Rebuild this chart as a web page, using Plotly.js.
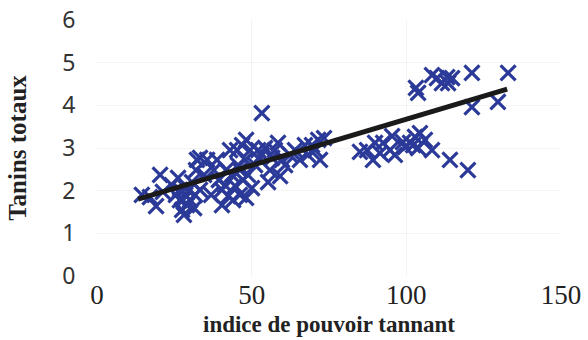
<!DOCTYPE html>
<html>
<head>
<meta charset="utf-8">
<script src="https://cdn.plot.ly/plotly-3.0.1.min.js"></script>
<style>html,body{margin:0;padding:0;background:#fff;}#chart{width:588px;height:340px;}</style>
</head>
<body>
<div id="chart"></div>
<script>
// indice de pouvoir tannant (x) and Tanins totaux (y)
const pouvoirTannant = [
  14.5, 17.1, 19.1, 20.4, 21.3, 24.2, 25.5, 26.2, 26.8, 27.5,
  28.1, 28.5, 29.1, 29.7, 30.1, 30.7, 31.4, 32.0, 32.3, 33.3,
  33.3, 34.6, 35.6, 36.9, 37.8, 38.8, 39.4, 40.4, 41.4, 42.4,
  43.0, 43.6, 44.0, 44.6, 45.3, 45.6, 46.2, 46.9, 47.2, 47.9,
  48.2, 48.8, 49.5, 50.1, 51.1, 53.3, 53.3, 54.3, 55.3, 55.9,
  56.6, 57.5, 58.5, 59.2, 59.8, 60.8, 62.4, 64.0, 65.6, 67.2,
  68.2, 69.5, 70.5, 71.5, 72.1, 73.4, 27.8, 28.8, 26.8, 31.7,
  41.7, 46.2, 48.2, 40.4, 52.1,
  85.0, 87.3, 89.9, 89.2, 91.5, 92.5, 94.7, 95.4, 96.3, 98.9,
  99.6, 101.2, 102.2, 102.8, 104.4, 103.8, 106.0, 108.3, 114.1, 119.9,
  103.1, 103.8, 108.3, 109.9, 111.5, 113.2, 113.5, 114.8, 121.2, 132.9,
  121.2, 129.6
];
const taninsTotaux = [
  1.90, 1.85, 1.64, 2.37, 1.97, 2.13, 1.90, 2.30, 1.78, 1.55,
  1.43, 1.90, 1.66, 2.02, 1.78, 2.20, 1.59, 2.48, 2.72, 2.77,
  2.02, 2.37, 2.72, 1.90, 2.48, 2.72, 2.25, 1.66, 2.13, 1.87,
  2.95, 2.37, 1.78, 2.11, 2.95, 2.60, 1.90, 3.07, 2.25, 2.72,
  1.83, 2.37, 2.95, 2.06, 2.60, 3.82, 2.84, 3.00, 2.20, 2.48,
  2.77, 2.95, 3.12, 2.34, 2.72, 2.60, 2.84, 2.95, 2.72, 3.07,
  2.84, 3.07, 2.95, 3.19, 2.72, 3.23, 1.78, 2.06, 2.02, 1.90,
  2.48, 2.48, 3.19, 2.02, 2.95,
  2.91, 2.95, 3.12, 2.72, 2.88, 3.12, 2.95, 3.28, 2.84, 3.14,
  3.02, 3.12, 3.07, 3.26, 3.35, 3.00, 3.19, 2.95, 2.72, 2.48,
  4.41, 4.29, 4.71, 4.64, 4.52, 4.66, 4.52, 4.64, 4.76, 4.76,
  3.96, 4.08
];
// linear trend line end points
const trendX = [13.3, 132.6];
const trendY = [1.80, 4.38];

const xTicks = [0, 50, 100, 150];
const yTicks = [0, 1, 2, 3, 4, 5, 6];

const data = [
  {
    type: 'scatter', mode: 'markers',
    x: pouvoirTannant, y: taninsTotaux,
    marker: {symbol: 'x-thin', size: 15, color: '#2B3A98', line: {color: '#2B3A98', width: 3.2}},
    hoverinfo: 'x+y', showlegend: false
  },
  {
    type: 'scatter', mode: 'lines',
    x: trendX, y: trendY,
    line: {color: '#1a1a1a', width: 5},
    showlegend: false
  }
];

const layout = {
  width: 588, height: 340,
  margin: {l: 97, r: 27, t: 20, b: 64},
  paper_bgcolor: '#fff', plot_bgcolor: '#fff',
  showlegend: false,
  xaxis: {
    range: [0, 150], tickvals: xTicks, ticktext: xTicks.map(String),
    showgrid: true, gridcolor: '#f3f3f3', gridwidth: 1,
    zeroline: false, showline: false,
    ticks: '', 
    tickfont: {family: 'Liberation Serif, serif', size: 27, color: '#222'},
    title: {text: 'indice de pouvoir tannant', standoff: 6,
            font: {family: 'Liberation Serif, serif', size: 23, color: '#222', weight: 'bold'}}
  },
  yaxis: {
    range: [0, 6], tickvals: yTicks, ticktext: yTicks.map(String),
    showgrid: true, gridcolor: '#f3f3f3', gridwidth: 1,
    zeroline: false, showline: false,
    ticks: 'outside', ticklen: 16, tickcolor: 'rgba(0,0,0,0)',
    tickfont: {family: 'Noto Sans, sans-serif', size: 23, color: '#333'},
    title: {text: 'Tanins totaux', standoff: 28,
            font: {family: 'Liberation Serif, serif', size: 25, color: '#222', weight: 'bold'}}
  }
};

Plotly.newPlot('chart', data, layout, {displayModeBar: false, staticPlot: true});
</script>
</body>
</html>
